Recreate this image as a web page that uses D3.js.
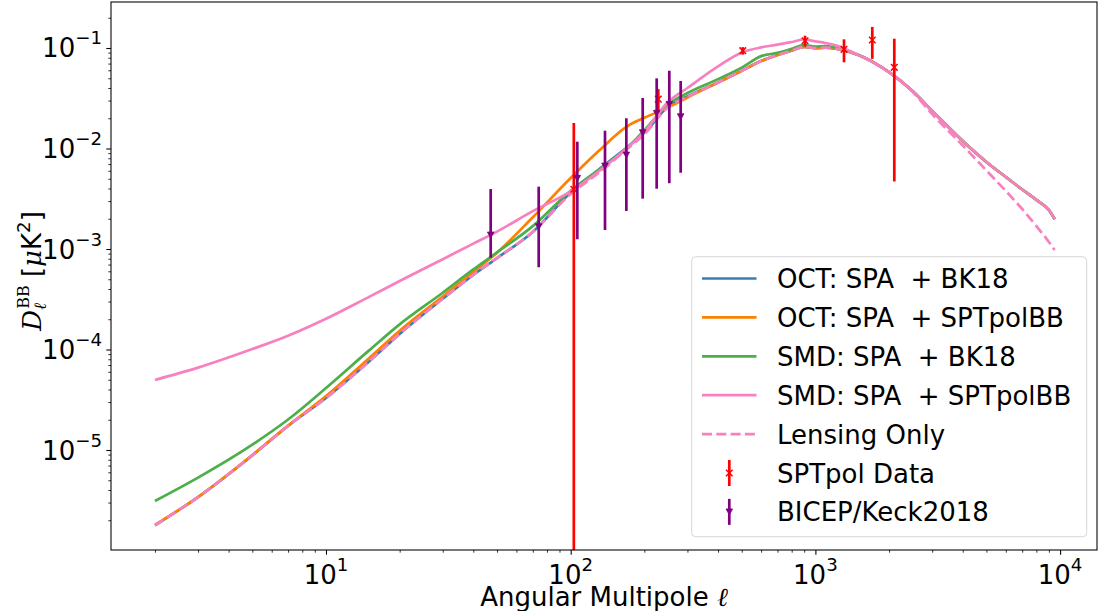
<!DOCTYPE html>
<html><head><meta charset="utf-8">
<script src="https://cdn.jsdelivr.net/npm/d3@7"></script>
<style>
html,body{margin:0;padding:0;background:#fff;}
svg{display:block;font-family:"DejaVu Sans",sans-serif;}
</style></head><body>
<svg id="chart" width="1099" height="611"></svg>
<script>
// ---------- data ----------
const ells = [2,3,5,7,10,15,20,30,40,50,70,100,130,170,200,250,300,400,500,600,700,800,900,1000,1100,1200,1500,2000,2500,3000,4000,5000,6000,7000,8000,9000,9500];

const octBK18 = [1.78e-6,3.4e-6,8.85e-6,1.74e-5,3.3e-5,7.6e-5,1.43e-4,3.2e-4,5.53e-4,8.13e-4,1.48e-3,3.65e-3,6.15e-3,1.03e-2,1.43e-2,2.62e-2,3.3e-2,4.54e-2,5.94e-2,7.41e-2,8.52e-2,9.44e-2,0.1028,0.0998,0.101,0.0989,0.0852,0.0574,0.0371,0.0237,0.01189,7.35e-3,5.2e-3,3.91e-3,3.08e-3,2.44e-3,1.98e-3];
const octSPT = [1.8e-6,3.4e-6,8.9e-6,1.75e-5,3.44e-5,8.2e-5,1.54e-4,3.37e-4,5.91e-4,9.2e-4,2.07e-3,5.08e-3,9.42e-3,1.66e-2,2.02e-2,2.56e-2,3.22e-2,4.54e-2,5.94e-2,7.41e-2,8.52e-2,9.44e-2,0.1028,0.0998,0.101,0.0989,0.0852,0.0574,0.0371,0.0237,0.01189,7.35e-3,5.2e-3,3.91e-3,3.08e-3,2.44e-3,1.98e-3];
const smdBK18 = [3.11e-6,5.31e-6,1.13e-5,2.01e-5,4.14e-5,9.8e-5,1.78e-4,3.67e-4,6.26e-4,9.25e-4,1.69e-3,3.8e-3,6.15e-3,1.01e-2,1.52e-2,2.74e-2,3.57e-2,4.9e-2,6.38e-2,8.3e-2,8.94e-2,9.8e-2,0.1066,0.1035,0.1043,0.1011,0.0852,0.0574,0.0371,0.0237,0.01189,7.35e-3,5.2e-3,3.91e-3,3.08e-3,2.44e-3,1.98e-3];
const smdSPT = [4.98e-5,6.6e-5,1.01e-4,1.37e-4,2.02e-4,3.34e-4,4.8e-4,7.92e-4,1.13e-3,1.49e-3,2.38e-3,3.74e-3,5.91e-3,1.01e-2,1.466e-2,2.9e-2,4.0e-2,6.56e-2,9.02e-2,0.1014,0.1079,0.1148,0.1216,0.1164,0.112,0.1071,0.0852,0.0574,0.0371,0.0237,0.01189,7.35e-3,5.2e-3,3.91e-3,3.08e-3,2.44e-3,1.98e-3];
const lensing = [1.78e-6,3.4e-6,8.85e-6,1.74e-5,3.29e-5,7.6e-5,1.43e-4,3.2e-4,5.53e-4,8.13e-4,1.48e-3,3.52e-3,5.7e-3,9.84e-3,1.384e-2,2.576e-2,3.26e-2,4.54e-2,5.94e-2,7.41e-2,8.52e-2,9.44e-2,0.1028,0.0998,0.101,0.0989,0.0852,0.0574,0.0365,0.0220,0.01072,6.04e-3,3.78e-3,2.5e-3,1.69e-3,1.175e-3,9.77e-4];

const sptEll = [103,228,505,907,1309,1708,2101];
const sptD   = [3.93e-3,0.031,0.094,0.118,0.097,0.120,0.0642];
const sptErr = [0.014,0.008,0.008,0.0145,0.025,0.042,0.0595];

const bkEll = [47.1,74.0,106.4,138.1,168.8,196.9,224.6,252.9,281.5];
const bkD   = [1.377e-3,1.667e-3,5.05e-3,6.70e-3,8.61e-3,0.01436,0.0224,0.0275,0.0207];
const bkHi  = [3.95e-3,4.17e-3,0.01169,0.01503,0.01998,0.0318,0.0499,0.0594,0.0470];
const bkLo  = [8.18e-4,6.58e-4,1.25e-3,1.545e-3,2.39e-3,3.17e-3,3.98e-3,4.51e-3,5.74e-3];

const xMajor = [10,100,1000,10000];
const yMajor = [1e-5,1e-4,1e-3,1e-2,1e-1];
const xMajorExp = ["1","2","3","4"];
const yMajorExp = ["\u22125","\u22124","\u22123","\u22122","\u22121"];

const seriesNames = ["OCT: SPA  + BK18","OCT: SPA  + SPTpolBB","SMD: SPA  + BK18","SMD: SPA  + SPTpolBB","Lensing Only"];
const seriesColors = ["#377eb8","#ff7f00","#4daf4a","#f781bf","#f781bf"];
const seriesVals = [octBK18, octSPT, smdBK18, smdSPT, lensing];

// ---------- layout ----------
const L=111, R=1097, T=2, B=550;
const FS = 26, SFS = 18.2;
const svg = d3.select("#chart");
const x = d3.scaleLog().domain([Math.pow(10,0.1214), Math.pow(10,4.1508)]).range([L,R]);
const y = d3.scaleLog().domain([Math.pow(10,-5.995), Math.pow(10,-0.5423)]).range([B,T]);

svg.append("defs").append("clipPath").attr("id","clip")
  .append("rect").attr("x",L).attr("y",T).attr("width",R-L).attr("height",B-T);

const plot = svg.append("g").attr("clip-path","url(#clip)");

const line = d3.line().x(d=>x(d[0])).y(d=>y(d[1])).curve(d3.curveMonotoneX);
seriesVals.forEach((vals,i)=>{
  plot.append("path")
    .attr("d", line(ells.map((e,j)=>[e, vals[j]])))
    .attr("fill","none").attr("stroke",seriesColors[i])
    .attr("stroke-width",2.7)
    .attr("stroke-linejoin","round")
    .attr("stroke-dasharray", i===4 ? "10,4.3" : null);
});

const red="#ff0000", purple="#800080";
function xMark(g,cx,cy,s,col){
  g.append("path").attr("d",`M${cx-s},${cy-s}L${cx+s},${cy+s}M${cx-s},${cy+s}L${cx+s},${cy-s}`)
   .attr("stroke",col).attr("stroke-width",1.5).attr("fill","none");
}
function vMark(g,cx,cy,s,col){
  g.append("path").attr("d",`M${cx-s},${cy-s*0.9}L${cx+s},${cy-s*0.9}L${cx},${cy+s*0.9}Z`)
   .attr("fill",col).attr("stroke",col).attr("stroke-width",0.8);
}
sptEll.forEach((e,i)=>{
  const lo = sptD[i]-sptErr[i], hi = sptD[i]+sptErr[i];
  const y1 = lo>0 ? y(lo) : B+20;
  plot.append("line").attr("x1",x(e)).attr("x2",x(e)).attr("y1",y1).attr("y2",y(hi))
    .attr("stroke",red).attr("stroke-width",2.7);
  xMark(plot,x(e),y(sptD[i]),3.3,red);
});
bkEll.forEach((e,i)=>{
  plot.append("line").attr("x1",x(e)).attr("x2",x(e)).attr("y1",y(bkLo[i])).attr("y2",y(bkHi[i]))
    .attr("stroke",purple).attr("stroke-width",2.7);
  vMark(plot,x(e),y(bkD[i]),3.3,purple);
});

// ---------- axes ----------
const xMinor = [];
for (let d=1; d<=1000; d*=10) for (let k=2;k<=9;k++) xMinor.push(k*d);
const yMinor = [];
for (let d=1e-6; d<=0.11; d*=10) for (let k=2;k<=9;k++) yMinor.push(k*d);

function styleAxis(g){ g.select(".domain").remove(); g.selectAll("line").attr("stroke","#000"); }
svg.append("g").attr("transform",`translate(0,${B})`)
  .call(d3.axisBottom(x).tickValues(xMinor.filter(v=>v>x.domain()[0]&&v<x.domain()[1])).tickSize(2.7).tickFormat(""))
  .call(styleAxis).selectAll("line").attr("stroke-width",0.8);
svg.append("g").attr("transform",`translate(0,${B})`)
  .call(d3.axisBottom(x).tickValues(xMajor).tickSize(4.7).tickFormat(""))
  .call(styleAxis).selectAll("line").attr("stroke-width",1.07);
svg.append("g").attr("transform",`translate(${L},0)`)
  .call(d3.axisLeft(y).tickValues(yMinor.filter(v=>v>y.domain()[0]&&v<y.domain()[1])).tickSize(2.7).tickFormat(""))
  .call(styleAxis).selectAll("line").attr("stroke-width",0.8);
svg.append("g").attr("transform",`translate(${L},0)`)
  .call(d3.axisLeft(y).tickValues(yMajor).tickSize(4.7).tickFormat(""))
  .call(styleAxis).selectAll("line").attr("stroke-width",1.07);

svg.append("rect").attr("x",L).attr("y",T).attr("width",R-L).attr("height",B-T)
  .attr("fill","none").attr("stroke","#000").attr("stroke-width",1.07);

// tick labels
xMajor.forEach((v,i)=>{
  const t = svg.append("text").attr("x",x(v)).attr("y",584).attr("text-anchor","middle")
    .attr("font-size",FS).attr("fill","#000");
  t.append("tspan").text("10");
  t.append("tspan").attr("font-size",SFS).attr("dy",-13).text(xMajorExp[i]);
});
yMajor.forEach((v,i)=>{
  const t = svg.append("text").attr("x",102).attr("y",y(v)+9.5).attr("text-anchor","end")
    .attr("font-size",FS).attr("fill","#000");
  t.append("tspan").text("10");
  t.append("tspan").attr("font-size",SFS).attr("dy",-13).text(yMajorExp[i]);
});

// axis labels
const xl = svg.append("text").attr("x",(L+R)/2).attr("y",606).attr("text-anchor","middle")
  .attr("font-size",FS).attr("fill","#000");
xl.append("tspan").text("Angular Multipole ");
xl.append("tspan").attr("font-family","DejaVu Serif").attr("font-style","italic").text("\u2113");

const yl = svg.append("text").attr("transform","translate(41,271) rotate(-90)")
  .attr("text-anchor","middle").attr("font-size",FS).attr("fill","#000");
yl.append("tspan").attr("font-family","DejaVu Serif").attr("font-style","italic").text("D");
yl.append("tspan").attr("font-family","DejaVu Serif").attr("font-style","italic").attr("font-size",17).attr("dy",5).text("\u2113");
yl.append("tspan").attr("font-family","DejaVu Serif").attr("font-size",16).attr("dx",-6).attr("dy",-17).text("BB");
yl.append("tspan").attr("dy",12).style("white-space","pre").text(" [");
yl.append("tspan").attr("font-family","DejaVu Serif").attr("font-style","italic").text("\u03bc");
yl.append("tspan").text("K");
yl.append("tspan").attr("font-size",SFS).attr("dy",-11).text("2");
yl.append("tspan").attr("dy",11).text("]");

// ---------- legend ----------
const lg = svg.append("g");
lg.append("rect").attr("x",691.7).attr("y",256.7).attr("width",395).attr("height",280)
  .attr("rx",4).attr("fill","#fff").attr("fill-opacity",0.8)
  .attr("stroke","#cccccc").attr("stroke-opacity",0.8).attr("stroke-width",1);
const row0 = 278.5, dRow = 38.9;
const legendNames = seriesNames.concat(["SPTpol Data","BICEP/Keck2018"]);
legendNames.forEach((n,i)=>{
  const cy = row0 + i*dRow;
  if (i<5){
    lg.append("line").attr("x1",702).attr("x2",756.5).attr("y1",cy).attr("y2",cy)
      .attr("stroke",seriesColors[i]).attr("stroke-width",2.7)
      .attr("stroke-dasharray", i===4 ? "10,4.3" : null);
  } else {
    const col = i===5 ? red : purple;
    lg.append("line").attr("x1",729.3).attr("x2",729.3).attr("y1",cy-13).attr("y2",cy+13)
      .attr("stroke",col).attr("stroke-width",2.7);
    if (i===5) xMark(lg,729.3,cy,3.3,col); else vMark(lg,729.3,cy,3.3,col);
  }
  lg.append("text").attr("x",777).attr("y",cy+9.5).attr("font-size",FS).attr("fill","#000")
    .style("white-space","pre").text(n);
});
</script>
</body></html>
